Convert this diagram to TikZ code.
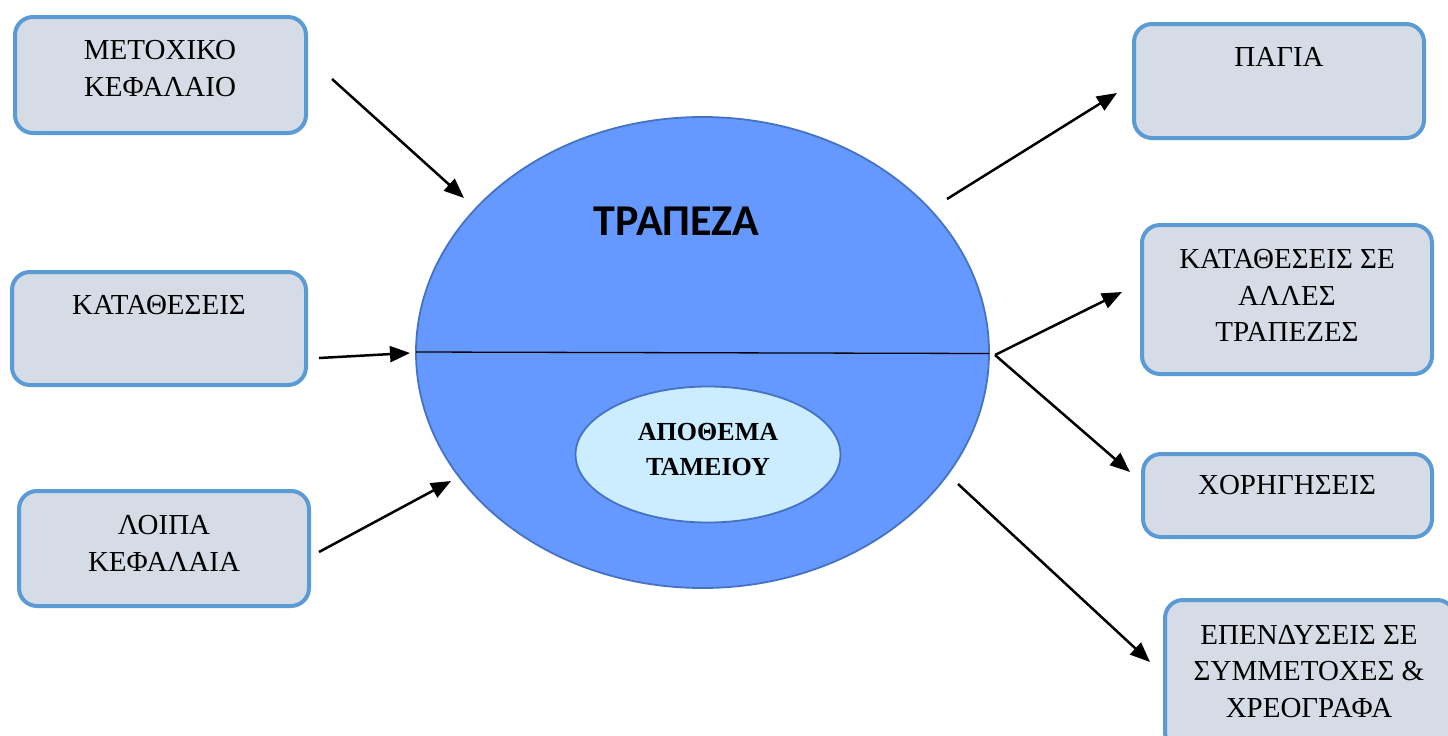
\documentclass[tikz,border=0pt]{standalone}
\usepackage{fontspec}
\setmainfont{Liberation Serif}
\newfontfamily\calib{Carlito}
\usetikzlibrary{arrows.meta,shapes.geometric}
\definecolor{boxfill}{HTML}{D6DCE5}
\definecolor{boxline}{HTML}{5B9BD5}
\definecolor{bankfill}{HTML}{6699FF}
\definecolor{bankline}{HTML}{4472C4}
\definecolor{cashfill}{HTML}{CCECFF}
\begin{document}
\begin{tikzpicture}[x=1pt,y=-1pt,
  boxstyle/.style={draw=boxline, fill=boxfill, line width=4pt, rounded corners=18pt, inner sep=0pt, rectangle},
  lbl/.style={anchor=north, inner sep=0pt, align=center, font=\fontsize{29}{36.6}\selectfont},
  flow/.style={line width=2.5pt, -{Triangle[length=20pt,width=16pt]}}]
\useasboundingbox (0,0) rectangle (1448,736);
\clip (0,0) rectangle (1448,736);

% boxes
\node[boxstyle, minimum width=291pt, minimum height=116pt] (b1) at (160.5,75) {};
\node[boxstyle, minimum width=294pt, minimum height=113pt] (b2) at (159,328.5) {};
\node[boxstyle, minimum width=290pt, minimum height=115pt] (b3) at (164,548.5) {};
\node[boxstyle, minimum width=290pt, minimum height=114pt] (b4) at (1279,81) {};
\node[boxstyle, minimum width=290pt, minimum height=149pt] (b5) at (1287,299.5) {};
\node[boxstyle, minimum width=289pt, minimum height=83pt] (b6) at (1287.5,495.5) {};
\node[boxstyle, minimum width=290pt, minimum height=150pt] (b7) at (1310,675) {};

\node[lbl] (t1) at (160,40) {ΜΕΤΟΧΙΚΟ\\ΚΕΦΑΛΑΙΟ};
\node[lbl] (t2) at (159,295) {ΚΑΤΑΘΕΣΕΙΣ};
\node[lbl] (t3) at (164,515) {ΛΟΙΠΑ\\ΚΕΦΑΛΑΙΑ};
\node[lbl] (t4) at (1279,47) {ΠΑΓΙΑ};
\node[lbl] (t5) at (1287,249) {ΚΑΤΑΘΕΣΕΙΣ ΣΕ\\ΑΛΛΕΣ\\ΤΡΑΠΕΖΕΣ};
\node[lbl] (t6) at (1287,475) {ΧΟΡΗΓΗΣΕΙΣ};
\node[lbl] (t7) at (1309,625) {ΕΠΕΝΔΥΣΕΙΣ ΣΕ\\ΣΥΜΜΕΤΟΧΕΣ \&\\ΧΡΕΟΓΡΑΦΑ};

% bank
\node[ellipse, draw=bankline, fill=bankfill, line width=1.8pt, inner sep=0pt,
      minimum width=573pt, minimum height=471pt] (bank) at (702.5,352.5) {};
\coordinate (divL) at (416,352);
\coordinate (divR) at (989,353.5);
\draw[line width=1.3pt] (divL) -- (divR);
\node[anchor=north, inner sep=0pt, font=\calib\bfseries\fontsize{44}{52}\selectfont] (title) at (676.5,207) {ΤΡΑΠΕΖΑ};

\node[ellipse, draw=bankline, fill=cashfill, line width=1.8pt, inner sep=0pt,
      minimum width=265pt, minimum height=136pt] (cash) at (708,454.5) {};
\node[anchor=north, inner sep=0pt, align=center, font=\bfseries\fontsize{26}{35}\selectfont] (cashtxt) at (708,423) {ΑΠΟΘΕΜΑ\\ΤΑΜΕΙΟΥ};

% arrow end points
\coordinate (s1) at (332,79);   \coordinate (e1) at (464,198);
\coordinate (s2) at (319,358);  \coordinate (e2) at (410,353);
\coordinate (s3) at (319,552);  \coordinate (e3) at (451,481);
\coordinate (s4) at (947,199);  \coordinate (e4) at (1117,93);
\coordinate (s5) at (995,355);  \coordinate (e5) at (1122,292);
\coordinate (e6) at (1130,472);
\coordinate (s7) at (958,484);  \coordinate (e7) at (1150,662);

\draw[flow] (s1) -- (e1);
\draw[flow] (s2) -- (e2);
\draw[flow] (s3) -- (e3);
\draw[flow] (s4) -- (e4);
\draw[flow] (s5) -- (e5);
\draw[flow] (s5) -- (e6);
\draw[flow] (s7) -- (e7);
\end{tikzpicture}
\end{document}
